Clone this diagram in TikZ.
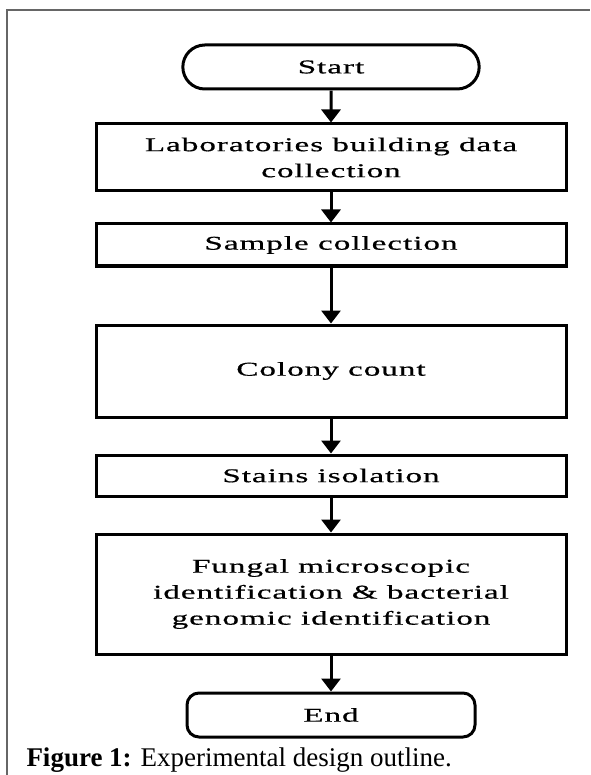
\documentclass[tikz,border=0pt]{standalone}
\usepackage{fontspec}
\setmainfont{Liberation Serif}
\newfontfamily\chartfont[FakeStretch=1.7,LetterSpace=5,FakeBold=0.6]{Liberation Serif}
\usetikzlibrary{arrows.meta,positioning,shapes.misc}

\begin{document}
\begin{tikzpicture}[->,>={Triangle[width=19pt,length=13pt]},line width=3pt,
                    node distance=30pt,
                    every node/.style={font=\chartfont\fontsize{19.5}{26}\selectfont},
                    process/.style={draw,rectangle,align=center,minimum width=470pt},
                    terminal/.style={draw,rounded rectangle,minimum height=44pt}]
% page frame
 \useasboundingbox (0,0) rectangle (590pt,-775pt);
 \draw[-,line width=1.5pt,black!60] (7pt,-775pt) -- (7pt,-10pt) -- (590pt,-10pt);

 \node [terminal, minimum width=303pt] (start) at (331pt,-67pt) {Start};
 \node [process, minimum height=67pt]  (lab)    [below=32pt of start] {Laboratories building data\\collection};
 \node [process, minimum height=42pt]  (sample) [below=30pt of lab]    {Sample collection};
 \node [process, minimum height=92pt]  (colony) [below=56pt of sample] {Colony count};
 \node [process, minimum height=41pt]  (stains) [below=35pt of colony] {Stains isolation};
 \node [process, minimum height=120pt] (fungal) [below=35pt of stains]
       {Fungal microscopic\\identification \& bacterial\\genomic identification};
 \node [draw, rounded corners=12pt, minimum width=288pt, minimum height=44pt]
       (end) [below=36pt of fungal] {End};

 \node [anchor=west, inner sep=0pt, font=\rmfamily\fontsize{27}{30}\selectfont] (caption) at (25pt,-760pt)
       {\textbf{Figure 1:} Experimental design outline.};

 \path (start)  edge (lab)
       (lab)    edge (sample)
       (sample) edge (colony)
       (colony) edge (stains)
       (stains) edge (fungal)
       (fungal) edge (end);
\end{tikzpicture}
\end{document}
